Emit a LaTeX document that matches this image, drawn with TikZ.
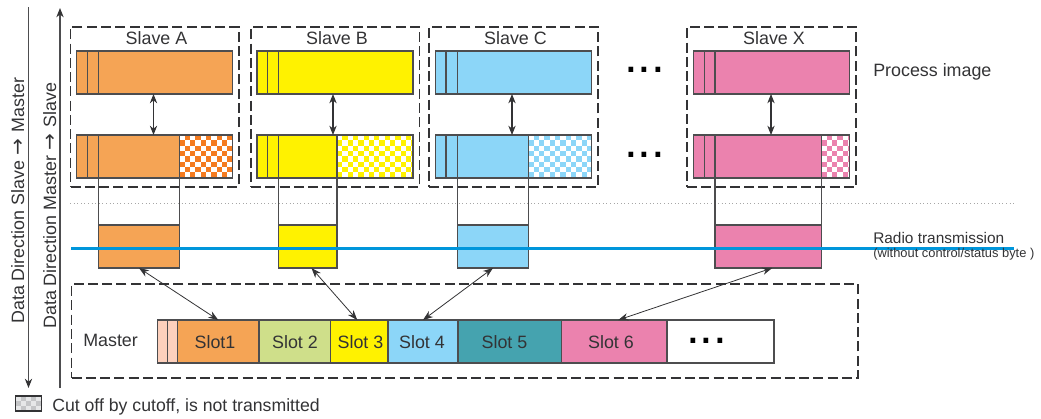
\documentclass[tikz,border=0pt]{standalone}
\usepackage{fontspec}
\setmainfont{Liberation Sans}
\newfontfamily\arrowfont{DejaVu Sans}
\newcommand{\dirarrow}{\hspace{0.05em}{\arrowfont\fontsize{15}{15}\selectfont →}\hspace{0.05em}}
\usetikzlibrary{arrows.meta}
\definecolor{cOrange}{HTML}{F5A455}
\definecolor{cOrangeChk}{HTML}{F47B20}
\definecolor{cYellow}{HTML}{FFF200}
\definecolor{cBlue}{HTML}{8CD6F8}
\definecolor{cPink}{HTML}{EB82AE}
\definecolor{cGreen}{HTML}{CFDF8A}
\definecolor{cTeal}{HTML}{45A3AF}
\definecolor{cPeach}{HTML}{FDD0BC}
\definecolor{cLine}{HTML}{4D4D4F}
\definecolor{cInk}{HTML}{333335}
\definecolor{cRadio}{HTML}{0096DB}
\definecolor{cLegA}{HTML}{C4C5C7}
\definecolor{cLegB}{HTML}{E6E7E8}
\tikzset{
  x=0.75pt,y=-0.75pt,
  cell/.style={draw=cLine,line width=0.8pt,anchor=north west,inner sep=0pt,outer sep=0pt},
  dashbox/.style={draw=cInk,line width=0.8pt,dash pattern=on 7.5pt off 3.2pt,anchor=north west,inner sep=0pt,outer sep=0pt},
  divider/.style={draw=cLine,line width=0.8pt},
  link/.style={draw=cLine,line width=0.8pt},
  biarrow/.style={draw=cInk,line width=0.8pt,{Stealth[length=7pt,width=5.5pt]}-{Stealth[length=7pt,width=5.5pt]}},
  diagarrow/.style={draw=cInk,line width=0.6pt,{Stealth[length=7.5pt,width=5.5pt]}-{Stealth[length=7.5pt,width=5.5pt]}},
  lab/.style={text=cInk,font=\fontsize{13.4}{15}\selectfont,inner sep=0pt},
  radio/.style={text=cInk,font=\fontsize{11.56}{13}\selectfont,inner sep=0pt},
  small/.style={text=cInk,font=\fontsize{9.66}{11}\selectfont,inner sep=0pt},
  dots/.style={text=black,font=\fontsize{37}{37}\selectfont,inner sep=0pt,anchor=base west},
}
% name, x1, y1, x2, y2, fill
\newcommand{\bx}[6]{\node[cell,fill=#6,minimum width={(#4-#2)*0.75pt},minimum height={(#5-#3)*0.75pt}] (#1) at (#2,#3) {};}
% name, x1, y1, x2, y2
\newcommand{\dbx}[5]{\node[dashbox,minimum width={(#4-#2)*0.75pt},minimum height={(#5-#3)*0.75pt}] (#1) at (#2,#3) {};}
% x1, y1, x2, y2, base, light colour, cell size
\newcommand{\chk}[7]{%
  \begin{scope}
    \clip (#1,#2) rectangle (#3,#4);
    \fill[#5] (#1,#2) rectangle (#3,#4);
    \foreach \i in {0,...,20}{\foreach \j in {0,...,9}{%
      \pgfmathtruncatemacro\kk{mod(\i+\j,2)}%
      \ifnum\kk=0 \fill[#6] ({#1+\i*#7},{#2+\j*#7}) rectangle ({#1+(\i+1)*#7},{#2+(\j+1)*#7});\fi
    }}
  \end{scope}}
\begin{document}
\begin{tikzpicture}
\useasboundingbox (0,0) rectangle (1041,418);

% dotted separator
\coordinate (sepL) at (70,203); \coordinate (sepR) at (1014,203);
\draw[draw=gray!70,line width=0.7pt,dotted] (sepL) -- (sepR);

% axes
\coordinate (ax1T) at (28.5,7); \coordinate (ax1B) at (28.5,388);
\coordinate (ax2T) at (60,8); \coordinate (ax2B) at (60,388);
\draw[draw=cLine,line width=0.8pt,-{Stealth[length=7pt,width=5.5pt,color=cInk]}] (ax1T) -- (ax1B);
\draw[draw=cLine,line width=0.8pt,-{Stealth[length=7pt,width=5.5pt,color=cInk]}] (ax2B) -- (ax2T);
\node[lab,rotate=90,anchor=base west] (dirA) at (24,324) {Data Direction Slave \dirarrow{} Master};
\node[lab,rotate=90,anchor=base west] (dirB) at (56,329) {Data Direction Master \dirarrow{} Slave};

% dashed groups
\dbx{gA}{70.5}{27}{239}{187}
\dbx{gB}{251}{27}{419.5}{187}
\dbx{gC}{429}{27}{598}{187}
\dbx{gX}{687}{27}{856}{187}
\dbx{gM}{71.5}{284}{858}{378}

\node[lab] (tA) at (156.5,38) {Slave A};
\node[lab] (tB) at (337,38) {Slave B};
\node[lab] (tC) at (515.5,38) {Slave C};
\node[lab] (tX) at (774,38) {Slave X};

% --- Slave A
\bx{aUp}{76.5}{51}{232.5}{94}{cOrange}
\chk{179.5}{135}{232.5}{178}{cOrangeChk}{white}{5.3}
\bx{aLow}{76.5}{135}{232.5}{178}{none}
\bx{aSol}{76.5}{135}{179.5}{178}{cOrange}
\draw[divider] (87.7,51) -- (87.7,94) (98.5,51) -- (98.5,94) (87.7,135) -- (87.7,178) (98.5,135) -- (98.5,178);
% --- Slave B
\bx{bUp}{257}{51}{413}{94}{cYellow}
\chk{337}{135}{413}{178}{cYellow}{white}{5.3}
\bx{bLow}{257}{135}{413}{178}{none}
\bx{bSol}{257}{135}{337}{178}{cYellow}
\draw[divider] (267.5,51) -- (267.5,94) (278.5,51) -- (278.5,94) (267.5,135) -- (267.5,178) (278.5,135) -- (278.5,178);
% --- Slave C
\bx{cUp}{435.5}{51}{591.5}{94}{cBlue}
\chk{528.5}{135}{591.5}{178}{cBlue}{white}{5.3}
\bx{cLow}{435.5}{135}{591.5}{178}{none}
\bx{cSol}{435.5}{135}{528.5}{178}{cBlue}
\draw[divider] (446,51) -- (446,94) (457.5,51) -- (457.5,94) (446,135) -- (446,178) (457.5,135) -- (457.5,178);
% --- Slave X
\bx{xUp}{693.5}{51}{849.5}{94}{cPink}
\chk{821.5}{135}{849.5}{178}{cPink}{white}{5.3}
\bx{xLow}{693.5}{135}{849.5}{178}{none}
\bx{xSol}{693.5}{135}{821.5}{178}{cPink}
\draw[divider] (704.5,51) -- (704.5,94) (715,51) -- (715,94) (704.5,135) -- (704.5,178) (715,135) -- (715,178);

\draw[biarrow] (aUp.south) ++(-1,0) -- (aLow.north -| 153.5,0);
\draw[biarrow] (bUp.south) ++(-2,0) -- (bLow.north -| 333,0);
\draw[biarrow] (cUp.south) ++(-1.5,0) -- (cLow.north -| 512,0);
\draw[biarrow] (xUp.south) ++(-0.5,0) -- (xLow.north -| 771,0);

% transmitted frames
\bx{aTx}{98.5}{225}{179.5}{268}{cOrange}
\bx{bTx}{278.5}{225}{337}{268}{cYellow}
\bx{cTx}{457.5}{225}{528.5}{268}{cBlue}
\bx{xTx}{715}{225}{821.5}{268}{cPink}
\foreach \n/\m in {aTx/aSol,bTx/bSol,cTx/cSol,xTx/xSol}{
  \draw[link] (\n.north west) -- (\n.north west |- \m.south);
  \draw[link] (\n.north east) -- (\n.north east |- \m.south);
}

% radio line
\coordinate (radL) at (71,248.5); \coordinate (radR) at (1014,248.5);
\draw[draw=cRadio,line width=2.25pt] (radL) -- (radR);

% master row
\bx{hd1}{157.5}{320}{167.5}{363}{cPeach}
\bx{hd2}{167.5}{320}{177.5}{363}{cPeach}
\bx{s1}{177.5}{320}{259}{363}{cOrange}
\bx{s2}{259}{320}{330.5}{363}{cGreen}
\bx{s3}{330.5}{320}{388}{363}{cYellow}
\bx{s4}{388}{320}{458}{363}{cBlue}
\bx{s5}{458}{320}{561.5}{363}{cTeal}
\bx{s6}{561.5}{320}{667}{363}{cPink}
\bx{s7}{667}{320}{774}{363}{white}
\node[lab] (l1) at (215,342) {Slot1};
\node[lab] (l2) at (295,342) {Slot 2};
\node[lab] (l3) at (360.5,342) {Slot 3};
\node[lab] (l4) at (422,342) {Slot 4};
\node[lab] (l5) at (504.5,342) {Slot 5};
\node[lab] (l6) at (611,342) {Slot 6};
\node[lab,anchor=base west] (lm) at (83,346) {Master};

\draw[diagarrow] (aTx.south) -- (s1.north);
\draw[diagarrow] ([xshift=2.8pt]bTx.south) -- ([xshift=-1.5pt]s3.north);
\draw[diagarrow] (cTx.south) -- (s4.north);
\draw[diagarrow] ([xshift=3pt]xTx.south) -- ([xshift=3pt]s6.north);

% ellipses
\node[dots] (d1) at (624,72) {{.}{.}{.}};
\node[dots] (d2) at (624,157) {{.}{.}{.}};
\node[dots] (d3) at (686,343) {{.}{.}{.}};

% right-hand labels
\node[lab,anchor=base west] (pi) at (873,76) {Process image};
\node[radio,anchor=base west] (rt) at (873,243) {Radio transmission};
\node[small,anchor=base west] (rs) at (873,257) {(without control/status byte )};

% legend
\chk{15.5}{396}{41.5}{411}{cLegA}{cLegB}{5}
\node[cell,draw=cInk,minimum width={26*0.75pt},minimum height={15*0.75pt}] (leg) at (15.5,396) {};
\node[lab,font=\fontsize{13.25}{15}\selectfont,anchor=base west] (legt) at (52,411) {Cut off by cutoff, is not transmitted};
\end{tikzpicture}
\end{document}
